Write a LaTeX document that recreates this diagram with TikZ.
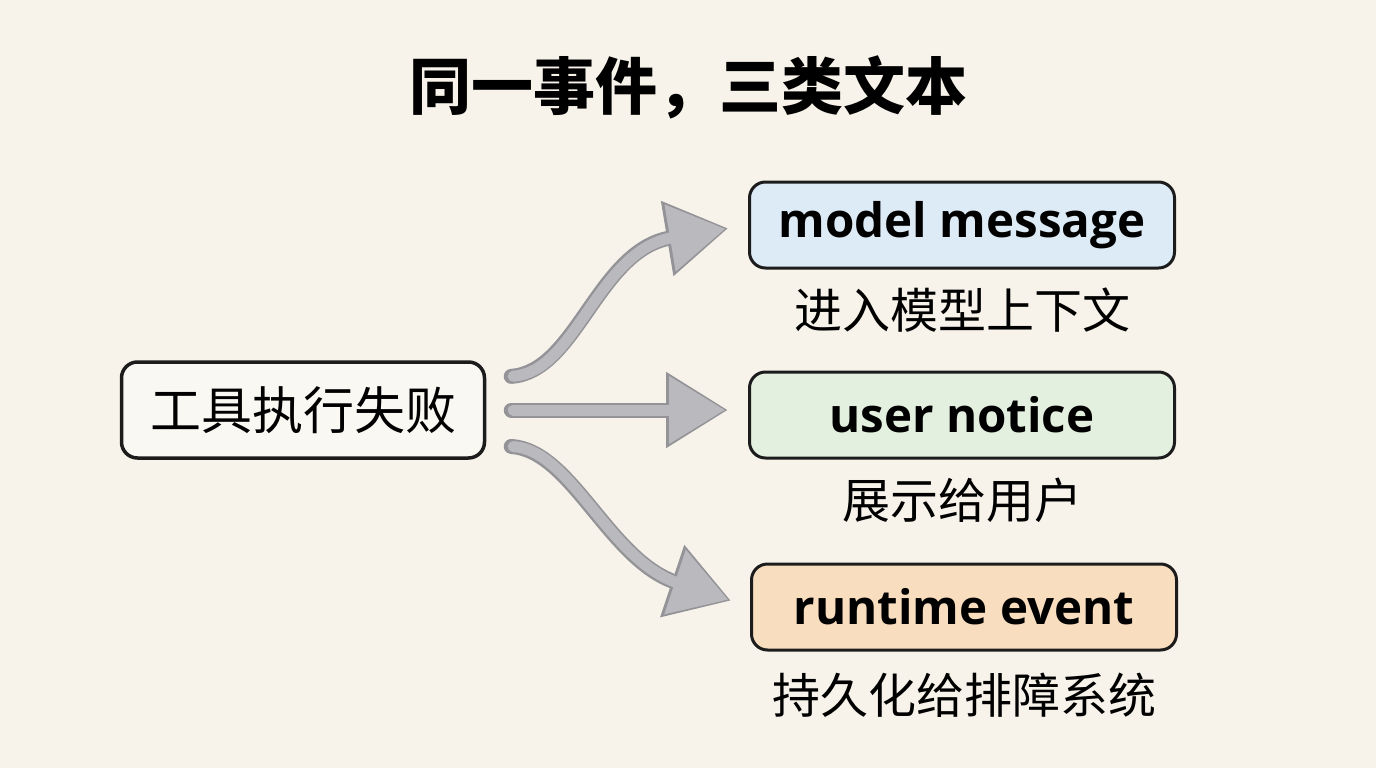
\documentclass[tikz,border=0pt]{standalone}
\usepackage{fontspec}
\setmainfont{Open Sans}
\newfontfamily\cjk{Noto Sans CJK SC}
\usepackage{tikz}
\usetikzlibrary{arrows.meta}
\usetikzlibrary{positioning}
\definecolor{paper}{HTML}{F7F3EA}
\definecolor{ink}{HTML}{1C1C1C}
\definecolor{blueish}{HTML}{DDEBF7}
\definecolor{greenish}{HTML}{E4F0DF}
\definecolor{orangeish}{HTML}{F9DDBF}
\definecolor{arrowfill}{HTML}{BABABE}
\definecolor{arrowedge}{HTML}{939398}
\tikzstyle{graph}=[x=1pt, y=-1pt]
\tikzstyle{box}=[rectangle, rounded corners=16pt, draw=ink, line width=3pt, minimum width=425pt, minimum height=86pt, inner sep=0pt, font=\bfseries\fontsize{47.5}{51}\selectfont]
\tikzstyle{failbox}=[box, fill=paper!60!white, line width=3.5pt, minimum width=363pt, minimum height=96pt, font=\cjk\fontsize{51}{55}\selectfont]
\tikzstyle{sub}=[inner sep=0pt, font=\cjk\fontsize{48}{52}\selectfont]
\tikzstyle{heading}=[inner sep=0pt, font=\cjk\bfseries\fontsize{62}{66}\selectfont]
\tikzstyle{fatout}=[draw=arrowedge, line width=15pt, line cap=round, shorten <=25pt, shorten >=20pt, -{Triangle[length=62pt, width=72pt]}]
\tikzstyle{fatin}=[draw=arrowfill, line width=11pt, line cap=round, shorten <=27pt, shorten >=23pt, -{Triangle[length=56pt, width=65pt]}]
\newcommand{\fatarrow}[1]{\draw[fatout] #1; \draw[fatin] #1;}

\begin{document}
\begin{tikzpicture}[graph]
	\fill[paper] (0,0) rectangle (1376,768);
	\useasboundingbox (0,0) rectangle (1376,768);
	\draw (688,87) node[heading] (title) {同一事件，三类文本};
	\draw (303,410) node[failbox] (fail) {工具执行失败};
	\draw (962,225) node[box, fill=blueish] (model) {model message};
	\draw (962,415) node[box, fill=greenish] (notice) {user notice};
	\draw (964,607) node[box, fill=orangeish] (event) {runtime event};
	\node[sub, below=18pt of model] (modelsub) {进入模型上下文};
	\node[sub, below=18pt of notice] (noticesub) {展示给用户};
	\node[sub, below=21pt of event] (eventsub) {持久化给排障系统};
	\fatarrow{([yshift=32pt]fail.east) .. controls +(90,-6) and +(-150,25) .. (model.west)}
	\fatarrow{(fail.east) -- (fail.east -| notice.west)}
	\fatarrow{([yshift=-35pt]fail.east) .. controls +(85,5) and +(-141,-47) .. (event.west)}
\end{tikzpicture}
\end{document}
